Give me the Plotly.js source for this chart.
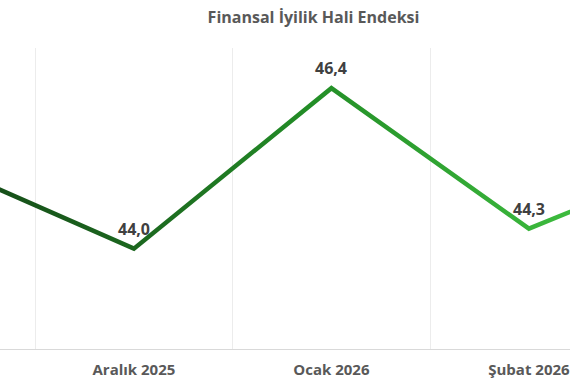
<!DOCTYPE html>
<html>
<head>
<meta charset="utf-8">
<script src="https://cdn.plot.ly/plotly-3.0.1.min.js"></script>
<style>html,body{margin:0;padding:0;background:#fff}#chart{width:570px;height:380px}</style>
</head>
<body>
<div id="chart"></div>
<script>
const categories = ["Kasım 2025", "Aralık 2025", "Ocak 2026", "Şubat 2026", "Mart 2026"];
const values = [45.3, 44.0, 46.4, 44.3, 45.5];
const chartTitle = "Finansal İyilik Hali Endeksi";

const FONT = "'Open Sans', 'Noto Sans', sans-serif";
const xRange = [0.322, 3.208];

const trace = {
  x: categories,
  y: values,
  type: "scatter",
  mode: "lines",
  line: {color: "#228a26", width: 4.5},
  hoverinfo: "skip"
};

// data labels for points that fall inside the visible x-range
const annotations = categories
  .map((c, i) => ({c, i}))
  .filter(o => o.i >= xRange[0] && o.i <= xRange[1])
  .map(o => ({
    x: o.c, y: values[o.i], xref: "x", yref: "y",
    text: "<b>" + values[o.i].toFixed(1).replace(".", ",") + "</b>",
    showarrow: false, yshift: 20,
    font: {family: FONT, size: 16, color: "#404040"}
  }));

const layout = {
  width: 570, height: 380,
  margin: {l: 0, r: 0, t: 48, b: 31, pad: 0},
  paper_bgcolor: "#fff", plot_bgcolor: "#fff",
  showlegend: false,
  annotations,
  title: {
    text: "<b>" + chartTitle + "</b>",
    font: {family: FONT, size: 16, color: "#595959"},
    x: 0.55, xanchor: "center", y: 0.955, yanchor: "middle"
  },
  xaxis: {
    type: "category",
    range: xRange,
    tickson: "boundaries",
    showgrid: true, gridcolor: "#ececec", gridwidth: 1,
    showline: true, linecolor: "#d9d9d9", linewidth: 1,
    ticks: "", zeroline: false,
    tickfont: {family: FONT, size: 15, color: "#595959", weight: "bold"},
    ticklabelstandoff: 7
  },
  yaxis: {
    range: [42.5, 47],
    showgrid: false, zeroline: false, showticklabels: false, ticks: "", showline: false
  }
};

Plotly.newPlot("chart", [trace], layout, {staticPlot: true, displayModeBar: false}).then(gd => {
  const svg = gd.querySelector("svg.main-svg");
  const ns = "http://www.w3.org/2000/svg";
  let defs = svg.querySelector("defs");
  if (!defs) { defs = document.createElementNS(ns, "defs"); svg.insertBefore(defs, svg.firstChild); }
  const g = document.createElementNS(ns, "linearGradient");
  g.setAttribute("id", "lineGrad");
  g.setAttribute("gradientUnits", "userSpaceOnUse");
  g.setAttribute("x1", "0"); g.setAttribute("y1", "0");
  g.setAttribute("x2", "570"); g.setAttribute("y2", "0");
  [["0", "#165019"], ["0.25", "#1c681f"], ["0.55", "#238e27"], ["1", "#3dbb3e"]].forEach(([o, c]) => {
    const s = document.createElementNS(ns, "stop");
    s.setAttribute("offset", o); s.setAttribute("stop-color", c);
    g.appendChild(s);
  });
  defs.appendChild(g);
  gd.querySelectorAll(".scatterlayer .js-line").forEach(p => {
    p.style.stroke = "url(#lineGrad)";
    p.style.strokeLinejoin = "miter";
  });
});
</script>
</body>
</html>
